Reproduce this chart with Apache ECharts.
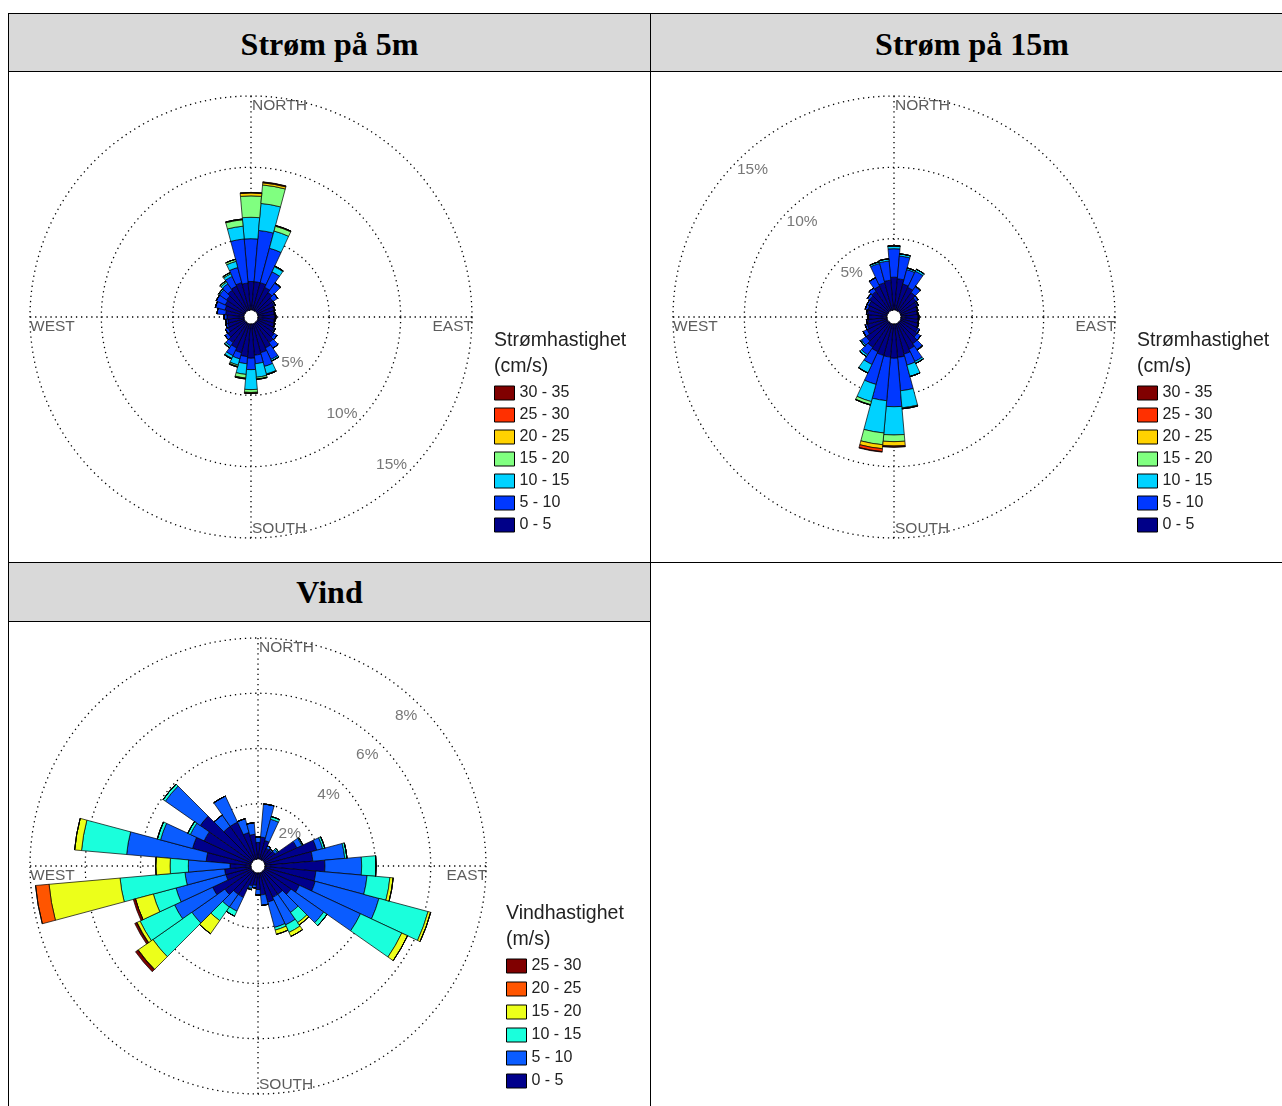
<!DOCTYPE html>
<html>
<head>
<meta charset="utf-8">
<script src="https://cdn.jsdelivr.net/npm/echarts@6/dist/echarts.min.js"></script>
<style>
  html, body { margin: 0; padding: 0; background: #fff; width: 1282px; height: 1106px; overflow: hidden; position: relative; }
  .hd { position: absolute; background: #d9d9d9; display: flex; align-items: center; justify-content: center;
        font-family: "Liberation Serif", "DejaVu Serif", serif; font-weight: bold; font-size: 32px; color: #000; box-sizing: border-box; }
  .ln { position: absolute; background: #000; }
  .ch { position: absolute; }
</style>
</head>
<body>
<div class="hd" style="left:9px;top:14px;width:641px;height:57px;padding-top:3px;">Strøm på 5m</div>
<div class="hd" style="left:651px;top:14px;width:642px;height:57px;padding-top:3px;">Strøm på 15m</div>
<div class="hd" style="left:9px;top:563px;width:641px;height:58px;padding-top:1px;">Vind</div>

<div class="ln" style="left:8px;top:13px;width:1274px;height:1px;"></div>
<div class="ln" style="left:8px;top:71px;width:1274px;height:1px;"></div>
<div class="ln" style="left:8px;top:562px;width:1274px;height:1px;"></div>
<div class="ln" style="left:8px;top:621px;width:643px;height:1px;"></div>
<div class="ln" style="left:8px;top:13px;width:1px;height:1093px;"></div>
<div class="ln" style="left:650px;top:13px;width:1px;height:1093px;"></div>

<div id="c1" class="ch" style="left:9px;top:72px;width:641px;height:490px;"></div>
<div id="c2" class="ch" style="left:651px;top:72px;width:631px;height:490px;"></div>
<div id="c3" class="ch" style="left:9px;top:622px;width:641px;height:484px;"></div>

<script>
// Direction bins (degrees clockwise from north, bin centres)
const directions = [0,10,20,30,40,50,60,70,80,90,100,110,120,130,140,150,160,170,
                    180,190,200,210,220,230,240,250,260,270,280,290,300,310,320,330,340,350];

// Current speed classes (cm/s) and colours
const currentClasses = ['0 - 5','5 - 10','10 - 15','15 - 20','20 - 25','25 - 30','30 - 35'];
const currentColors  = ['#000088','#0038ff','#00d2ff','#80ff80','#ffd200','#ff3000','#800000'];

// Wind speed classes (m/s) and colours
const windClasses = ['0 - 5','5 - 10','10 - 15','15 - 20','20 - 25','25 - 30'];
const windColors  = ['#00008c','#0a5cff','#1affdc','#ecff1a','#ff5500','#800000'];

// Strøm på 5m: frequency (%) per direction bin, one array per speed class
const s5_0_5   = [2.0,2.0,2.0,1.8,1.6,1.4,1.3,1.2,1.15,1.2,1.15,1.2,1.3,1.5,1.7,1.9,2.1,2.2,2.4,2.3,2.1,1.9,1.7,1.5,1.3,1.2,1.15,1.2,1.3,1.4,1.5,1.6,1.8,1.9,2.0,1.9];
const s5_5_10  = [3.0,3.6,2.5,1.2,0.8,0.4,0.1,0.05,0.05,0.05,0.05,0.05,0.1,0.25,0.5,0.9,1.0,0.6,0.8,0.5,0.45,0.6,0.3,0.25,0.2,0.15,0.15,0.2,0.6,0.7,0.7,0.6,0.55,0.75,1.1,3.1];
const s5_10_15 = [1.5,1.9,1.25,0.4,0.05,0,0,0,0,0,0,0,0,0,0,0.12,0.55,0.95,1.4,0.75,0.45,0.2,0.12,0,0,0,0,0,0,0,0,0.1,0.15,0.2,0.45,0.9];
const s5_15_20 = [1.5,1.3,0.35,0.05,0,0,0,0,0,0,0,0,0,0,0,0,0.05,0.12,0.2,0.25,0.1,0.05,0.03,0,0,0,0,0,0,0,0,0,0.1,0.1,0.15,0.45];
const s5_20_25 = [0.2,0.15,0.05,0,0,0,0,0,0,0,0,0,0,0,0,0,0,0.03,0.05,0.05,0.03,0,0,0,0,0,0,0,0,0,0,0,0,0,0,0.05];
const s5_25_30 = [0.04,0.05,0,0,0,0,0,0,0,0,0,0,0,0,0,0,0,0,0.02,0.02,0.02,0,0,0,0,0,0,0,0,0,0,0,0,0,0,0];
const s5_30_35 = [0,0.02,0,0,0,0,0,0,0,0,0,0,0,0,0,0,0,0,0,0,0,0,0,0,0,0,0,0,0,0,0,0,0,0,0,0];

// Strøm på 15m
const s15_0_5   = [2.3,2.2,1.9,1.8,1.6,1.4,1.3,1.2,1.15,1.2,1.2,1.25,1.35,1.5,1.8,2.0,2.2,2.35,2.4,2.33,2.3,2.2,2.1,1.9,1.6,1.45,1.35,1.3,1.35,1.4,1.45,1.6,1.7,1.9,2.0,2.1];
const s15_5_10  = [2.0,1.6,1.05,1.25,0.5,0.2,0.1,0.05,0.05,0.05,0.05,0.05,0.15,0.3,0.5,0.95,0.8,2.35,3.4,3.07,2.1,0.98,0.65,0.4,0.3,0.15,0.1,0.05,0.1,0.2,0.15,0.2,0.3,0.65,1.4,1.35];
const s15_10_15 = [0.2,0.15,0.12,0.15,0.05,0,0,0,0,0,0,0,0,0,0.05,0.15,0.83,1.2,1.98,2.27,1.25,0.65,0.15,0.1,0,0,0,0,0,0,0,0,0,0,0.12,0.15];
const s15_15_20 = [0,0,0,0,0,0,0,0,0,0,0,0,0,0,0,0,0,0.05,0.47,0.83,0.22,0.02,0,0,0,0,0,0,0,0,0,0,0,0,0,0];
const s15_20_25 = [0,0,0,0,0,0,0,0,0,0,0,0,0,0,0,0,0,0.02,0.3,0.28,0.03,0,0,0,0,0,0,0,0,0,0,0,0,0,0,0];
const s15_25_30 = [0,0,0,0,0,0,0,0,0,0,0,0,0,0,0,0,0,0,0.07,0.2,0,0,0,0,0,0,0,0,0,0,0,0,0,0,0,0];
const s15_30_35 = [0,0,0,0,0,0,0,0,0,0,0,0,0,0,0,0,0,0,0.02,0.04,0,0,0,0,0,0,0,0,0,0,0,0,0,0,0,0];

// Vind
const v_0_5   = [0.6,0.8,0.7,0.45,0.45,0.5,1.3,1.95,1.74,2.17,1.85,1.89,1.4,1.2,1.0,1.0,1.1,0.8,0.6,0.45,0.5,1.0,1.0,1.21,1.56,0.95,0.96,0.76,1.63,2.2,1.9,2.3,1.5,1.5,1.0,0.9];
const v_5_10  = [0.2,1.2,0.8,0.1,0.05,0.1,0.2,0.22,1.16,1.33,1.86,2.39,2.44,1.45,0.8,1.1,0.95,0.38,0.2,0.1,0.1,0.55,0.56,1.46,1.52,1.87,1.44,1.51,2.89,1.2,0.55,1.54,0.5,1.04,0.52,0.42];
const v_10_15 = [0,0,0.1,0,0,0.05,0.04,0.08,0.08,0.52,0.83,1.84,1.65,0.15,0.45,0.3,0.1,0,0,0,0.04,0.2,0.6,1.72,1.38,0.85,2.36,0.66,1.64,0.12,0.1,0.1,0,0,0,0];
const v_15_20 = [0,0,0,0,0,0,0,0,0,0,0.12,0.1,0.23,0,0.1,0.16,0.16,0,0,0,0,0,0.58,0.65,0.12,0.67,2.58,0.52,0.25,0,0,0,0,0,0,0];
const v_20_25 = [0,0,0,0,0,0,0,0,0,0,0,0,0,0,0,0,0,0,0,0,0,0,0,0.02,0.02,0,0.49,0,0,0,0,0,0,0,0,0];
const v_25_30 = [0,0,0,0,0,0,0,0,0,0,0,0,0,0,0,0,0,0,0,0,0,0,0,0.1,0.07,0.08,0,0,0,0,0,0,0,0,0,0];

// Compass labels and ring tick labels
const compassNames    = ['NORTH','EAST','SOUTH','WEST'];
const compassBearings = [0, 90, 180, 270];
const ticks5m  = [5, 10, 15];
const ticks15m = [5, 10, 15];
const ticksVind = [2, 4, 6, 8];

const FONT = '"Liberation Sans", Arial, Helvetica, sans-serif';
const dotted = { color: '#000', width: 1.3, type: [1.3, 3.8] };

function roseOption(cfg) {
  const series = cfg.values.map((vals, i) => ({
    type: 'bar', name: cfg.classes[i], coordinateSystem: 'polar', polarIndex: 0,
    stack: 'rose', barCategoryGap: '0%', data: vals, silent: true,
    itemStyle: { color: cfg.colors[i], borderColor: '#000', borderWidth: 0.7 }
  }));

  // compass words placed at the outer ring
  const compassOffsets = [
    { align: 'left',  verticalAlign: 'middle', offset: [1, 10] },
    { align: 'right', verticalAlign: 'middle', offset: [1, 10] },
    { align: 'left',  verticalAlign: 'middle', offset: [1, -9] },
    { align: 'left',  verticalAlign: 'middle', offset: [0, 10] }
  ];
  series.push({
    type: 'scatter', coordinateSystem: 'polar', polarIndex: 1, symbolSize: 1, silent: true,
    itemStyle: { color: 'rgba(0,0,0,0)' },
    label: { show: true, position: 'inside', formatter: p => p.name, fontSize: 15.5, color: '#333', fontFamily: FONT },
    data: compassNames.map((n, i) => ({ name: n, value: [cfg.max, compassBearings[i]], label: compassOffsets[i] }))
  });

  // percentage labels along one diagonal
  series.push({
    type: 'scatter', coordinateSystem: 'polar', polarIndex: 1, symbolSize: 1, silent: true,
    itemStyle: { color: 'rgba(0,0,0,0)' },
    label: { show: true, position: 'inside', formatter: p => p.value[0] + '%', fontSize: 15.5, color: '#555',
             fontFamily: FONT, offset: cfg.tickOffset },
    data: cfg.ticks.map(t => [t, cfg.tickBearing])
  });

  return {
    animation: false,
    title: {
      text: cfg.legendTitle, left: cfg.legendLeft, top: cfg.titleTop, padding: 0,
      textStyle: { fontSize: 19.5, fontWeight: 'normal', color: '#222', lineHeight: 26, fontFamily: FONT }
    },
    legend: {
      orient: 'vertical', left: cfg.legendLeft, top: cfg.legendTop, padding: 0,
      itemWidth: 20, itemHeight: 14, itemGap: cfg.legendGap, icon: 'rect',
      itemStyle: { borderColor: '#000', borderWidth: 1 },
      textStyle: { fontSize: 16, color: '#222', fontFamily: FONT, lineHeight: 14 },
      selectedMode: false,
      data: cfg.classes.slice().reverse()
    },
    polar: [
      { center: cfg.center, radius: [7, cfg.radius] },
      { center: cfg.center, radius: [7, cfg.radius] }
    ],
    angleAxis: [
      { polarIndex: 0, type: 'category', data: directions, startAngle: 95, clockwise: true, boundaryGap: true,
        axisLine: { show: false }, axisTick: { show: false }, axisLabel: { show: false }, splitLine: { show: false } },
      { polarIndex: 1, type: 'value', min: 0, max: 360, interval: 90, startAngle: 90, clockwise: true,
        axisLine: { show: false }, axisTick: { show: false }, axisLabel: { show: false },
        splitLine: { show: true, lineStyle: dotted } }
    ],
    radiusAxis: [
      { polarIndex: 0, type: 'value', min: 0, max: cfg.max, interval: cfg.step,
        axisLine: { show: false }, axisTick: { show: false }, axisLabel: { show: false },
        splitLine: { show: true, lineStyle: dotted } },
      { polarIndex: 1, type: 'value', min: 0, max: cfg.max, interval: cfg.step,
        axisLine: { show: false }, axisTick: { show: false }, axisLabel: { show: false },
        splitLine: { show: false } }
    ],
    series: series
  };
}

echarts.init(document.getElementById('c1')).setOption(roseOption({
  center: [242, 245], radius: 221, max: 15, step: 5,
  classes: currentClasses, colors: currentColors,
  values: [s5_0_5, s5_5_10, s5_10_15, s5_15_20, s5_20_25, s5_25_30, s5_30_35],
  ticks: ticks5m, tickBearing: 136, tickOffset: [-13, -11],
  legendTitle: 'Strømhastighet\n(cm/s)', legendLeft: 485, titleTop: 256, legendTop: 313, legendGap: 6
}));

echarts.init(document.getElementById('c2')).setOption(roseOption({
  center: [243, 245], radius: 221, max: 15, step: 5,
  classes: currentClasses, colors: currentColors,
  values: [s15_0_5, s15_5_10, s15_10_15, s15_15_20, s15_20_25, s15_25_30, s15_30_35],
  ticks: ticks15m, tickBearing: 316, tickOffset: [12, 12],
  legendTitle: 'Strømhastighet\n(cm/s)', legendLeft: 486, titleTop: 256, legendTop: 313, legendGap: 6
}));

echarts.init(document.getElementById('c3')).setOption(roseOption({
  center: [249, 244], radius: 228, max: 8, step: 2,
  classes: windClasses, colors: windColors,
  values: [v_0_5, v_5_10, v_10_15, v_15_20, v_20_25, v_25_30],
  ticks: ticksVind, tickBearing: 44.6, tickOffset: [-12, 12],
  legendTitle: 'Vindhastighet\n(m/s)', legendLeft: 497, titleTop: 279, legendTop: 336, legendGap: 7
}));
</script>
</body>
</html>
